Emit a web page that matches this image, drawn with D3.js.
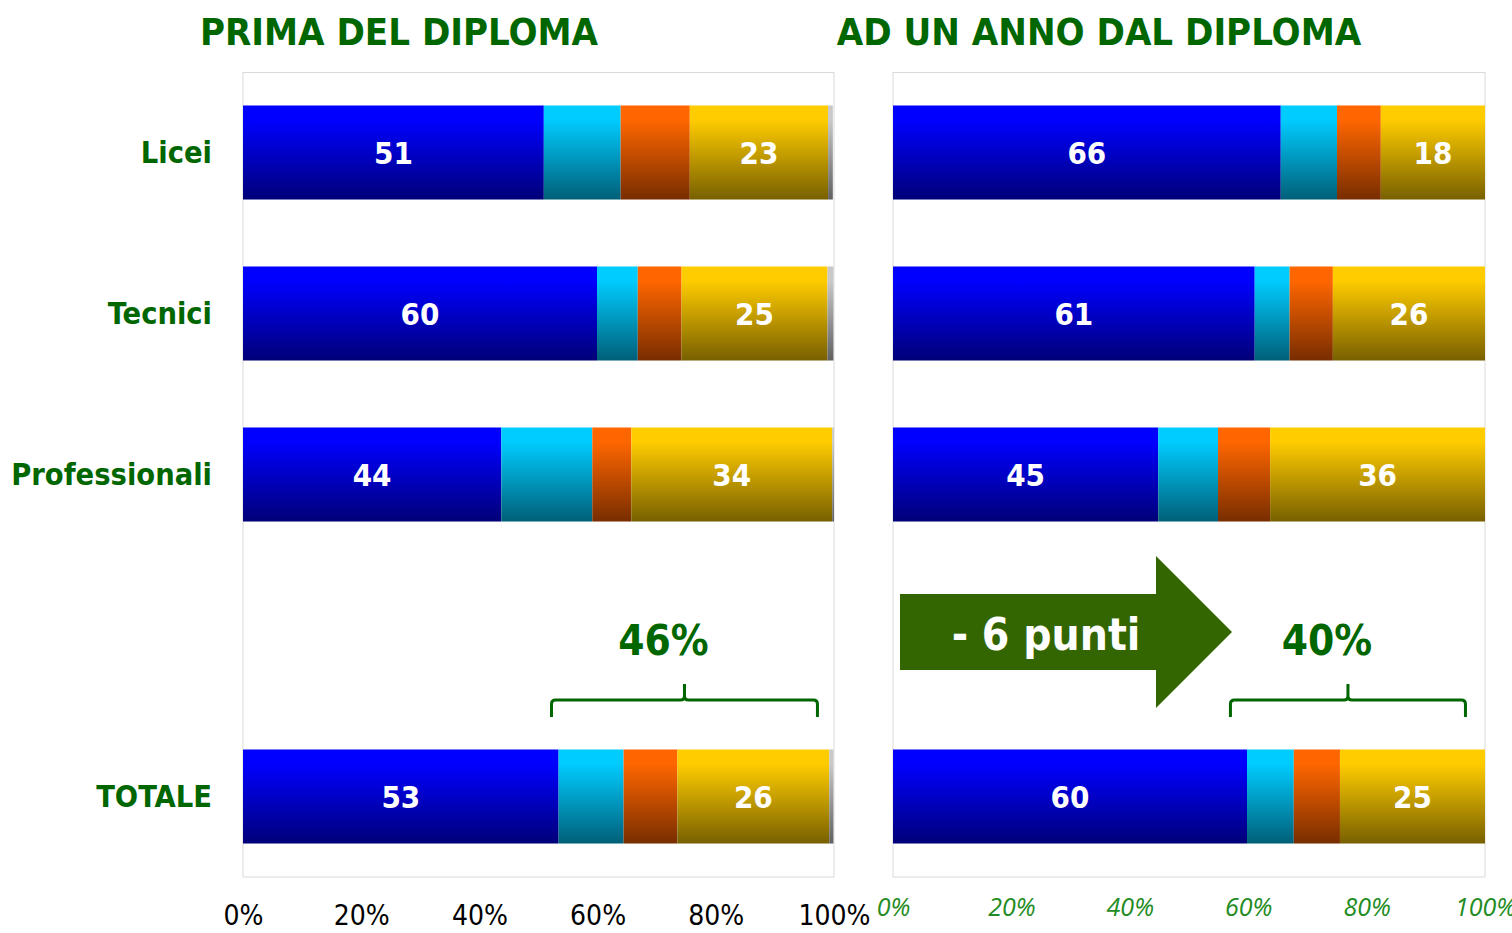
<!DOCTYPE html>
<html><head><meta charset="utf-8">
<script src="https://cdn.jsdelivr.net/npm/d3@7"></script>
<style>html,body{margin:0;padding:0;background:#fff;overflow:hidden}</style>
</head><body><svg id="c" width="1512" height="933"></svg>
<script>
const categories = ["Licei", "Tecnici", "Professionali", "", "TOTALE"];
const seriesKeys = ["blu", "azzurro", "arancio", "giallo", "grigio"];
const labelledSeries = ["blu", "giallo"];
// PRIMA DEL DIPLOMA (%)
const primaBlu     = [50.9, 59.9, 43.7, null, 53.4];
const primaAzzurro = [13.0,  6.9, 15.4, null, 11.0];
const primaArancio = [11.7,  7.4,  6.6, null,  9.1];
const primaGiallo  = [23.4, 24.7, 34.0, null, 25.7];
const primaGrigio  = [ 0.8,  1.0,  0.3, null,  0.7];
// AD UN ANNO DAL DIPLOMA (%)
const annoBlu      = [65.5, 61.1, 44.8, null, 59.8];
const annoAzzurro  = [ 9.5,  5.9, 10.1, null,  7.9];
const annoArancio  = [ 7.4,  7.3,  8.8, null,  7.8];
const annoGiallo   = [17.6, 25.7, 36.3, null, 24.5];
const annoGrigio   = [ 0,    0,    0,   null,  0];
const tickValues = [0, 20, 40, 60, 80, 100];
const panelTitles = ["PRIMA DEL DIPLOMA", "AD UN ANNO DAL DIPLOMA"];
const bracketLabels = ["46%", "40%"];
const bracketRanges = [[52.2, 97.2], [57.0, 96.7]];
const arrowLabel = "- 6 punti";

const gradColors = {
  blu:     ["#0000ff", "#000078"],
  azzurro: ["#00ccff", "#005f78"],
  arancio: ["#ff6600", "#782d00"],
  giallo:  ["#ffcc00", "#786000"],
  grigio:  ["#c8c8c8", "#606060"]
};
const GREEN = "#006600";
const FONT = "'DejaVu Sans Condensed','DejaVu Sans',sans-serif";

const svg = d3.select("#c");
const defs = svg.append("defs");
seriesKeys.forEach(k => {
  const g = defs.append("linearGradient").attr("id", "g-" + k)
    .attr("x1", 0).attr("y1", 0).attr("x2", 0).attr("y2", 1);
  g.append("stop").attr("offset", "0").attr("stop-color", gradColors[k][0]);
  g.append("stop").attr("offset", "0.15").attr("stop-color", gradColors[k][0]);
  g.append("stop").attr("offset", "1").attr("stop-color", gradColors[k][1]);
});

const y = d3.scaleBand().domain(categories).range([72, 877])
  .paddingInner(0.416).paddingOuter(0.208);

function makeRows(arrs) {
  return categories.map((c, i) => {
    const r = { cat: c };
    seriesKeys.forEach((k, j) => r[k] = arrs[j][i] == null ? 0 : arrs[j][i]);
    return r;
  });
}
const panels = [
  { x: d3.scaleLinear().domain([0, 100]).range([243, 834]),
    rows: makeRows([primaBlu, primaAzzurro, primaArancio, primaGiallo, primaGrigio]),
    titleX: 399, axis: "left" },
  { x: d3.scaleLinear().domain([0, 100]).range([893, 1485]),
    rows: makeRows([annoBlu, annoAzzurro, annoArancio, annoGiallo, annoGrigio]),
    titleX: 1099, axis: "right" }
];

const stack = d3.stack().keys(seriesKeys);

panels.forEach((p, pi) => {
  const x = p.x;
  const g = svg.append("g");
  g.append("rect").attr("x", x(0)).attr("y", 72.5)
    .attr("width", x(100) - x(0)).attr("height", 877 - 72.5)
    .attr("fill", "none").attr("stroke", "#d9d9d9").attr("stroke-width", 1);

  const layers = stack(p.rows.filter(r => r.cat !== ""));
  layers.forEach(layer => {
    g.append("g").selectAll("rect").data(layer).join("rect")
      .attr("x", d => x(d[0]))
      .attr("y", d => y(d.data.cat))
      .attr("width", d => Math.max(0, x(d[1]) - x(d[0])))
      .attr("height", y.bandwidth())
      .attr("fill", "url(#g-" + layer.key + ")");
    if (labelledSeries.includes(layer.key)) {
      g.append("g").selectAll("text").data(layer).join("text")
        .attr("x", d => (x(d[0]) + x(d[1])) / 2)
        .attr("y", d => y(d.data.cat) + y.bandwidth() / 2)
        .attr("dy", "0.36em")
        .attr("text-anchor", "middle")
        .attr("fill", "#fff")
        .attr("font-family", FONT).attr("font-weight", "bold")
        .attr("font-size", 31)
        .text(d => Math.round(d[1] - d[0]));
    }
  });

  svg.append("text").attr("x", p.titleX).attr("y", 45)
    .attr("text-anchor", "middle").attr("fill", GREEN)
    .attr("font-family", FONT).attr("font-weight", "bold").attr("font-size", 38)
    .text(panelTitles[pi]);

  const ax = d3.axisBottom(x).tickValues(tickValues).tickSize(0)
    .tickFormat(d => d + "%");
  const axG = svg.append("g").attr("transform", "translate(0,877)").call(ax);
  axG.select(".domain").remove();
  if (p.axis === "left") {
    axG.selectAll("text").attr("dy", 0).attr("y", 48)
      .attr("fill", "#000").attr("font-size", 28)
      .attr("font-family", "'Liberation Sans Narrow','DejaVu Sans Condensed',sans-serif");
  } else {
    axG.selectAll("text").attr("dy", 0).attr("y", 39)
      .attr("fill", "#228b22").attr("font-size", 25).attr("font-style", "italic")
      .attr("font-family", "'Open Sans','DejaVu Sans',sans-serif");
  }

  const [b0, b1] = bracketRanges[pi].map(x);
  const bm = (b0 + b1) / 2;
  const by = 700, r = 4;
  svg.append("path")
    .attr("d", `M${b0},717 L${b0},${by + r} Q${b0},${by} ${b0 + r},${by} L${bm - r},${by} Q${bm},${by} ${bm},${by - r} L${bm},684 M${bm},${by - r} Q${bm},${by} ${bm + r},${by} L${b1 - r},${by} Q${b1},${by} ${b1},${by + r} L${b1},717`)
    .attr("fill", "none").attr("stroke", GREEN).attr("stroke-width", 3);
  svg.append("text").attr("x", bm - 21).attr("y", 640).attr("dy", "0.36em")
    .attr("text-anchor", "middle").attr("fill", GREEN)
    .attr("font-family", FONT).attr("font-weight", "bold").attr("font-size", 42)
    .text(bracketLabels[pi]);
});

svg.append("g").selectAll("text").data(categories.filter(c => c !== "")).join("text")
  .attr("x", 212).attr("y", d => y(d) + y.bandwidth() / 2).attr("dy", "0.36em")
  .attr("text-anchor", "end").attr("fill", GREEN)
  .attr("font-family", FONT).attr("font-weight", "bold").attr("font-size", 30.5)
  .text(d => d);

const arrow = d3.path();
arrow.moveTo(900, 594); arrow.lineTo(1156, 594); arrow.lineTo(1156, 556);
arrow.lineTo(1232, 632); arrow.lineTo(1156, 708); arrow.lineTo(1156, 670);
arrow.lineTo(900, 670); arrow.closePath();
svg.append("path").attr("d", arrow.toString()).attr("fill", "#336600");
svg.append("text").attr("x", 1046).attr("y", 634).attr("dy", "0.36em")
  .attr("text-anchor", "middle").attr("fill", "#fff")
  .attr("font-family", FONT).attr("font-weight", "bold").attr("font-size", 44)
  .text(arrowLabel);
</script></body></html>
